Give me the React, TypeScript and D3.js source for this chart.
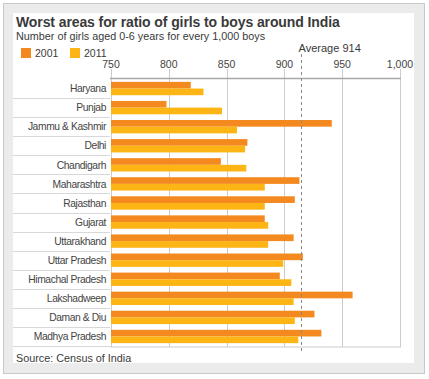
import React from "react";
import * as d3 from "d3";

const regions = [
  "Haryana",
  "Punjab",
  "Jammu & Kashmir",
  "Delhi",
  "Chandigarh",
  "Maharashtra",
  "Rajasthan",
  "Gujarat",
  "Uttarakhand",
  "Uttar Pradesh",
  "Himachal Pradesh",
  "Lakshadweep",
  "Daman & Diu",
  "Madhya Pradesh",
];
const values2001 = [819, 798, 941, 868, 845, 913, 909, 883, 908, 916, 896, 959, 926, 932];
const values2011 = [830, 846, 859, 866, 867, 883, 883, 886, 886, 899, 906, 908, 909, 912];
const seriesNames = ["2001", "2011"];
const seriesColors = ["#f48a1f", "#fdb515"];
const tickValues = [750, 800, 850, 900, 950, 1000];
const averageValue = 914;
const title = "Worst areas for ratio of girls to boys around India";
const subtitle = "Number of girls aged 0-6 years for every 1,000 boys";
const source = "Source: Census of India";

const W = 429;
const H = 379;
const FONT = "'Liberation Sans', Arial, Helvetica, sans-serif";

export default function App() {
  const x = d3.scaleLinear().domain([750, 1000]).range([111, 400]);
  const y = d3
    .scaleBand<string>()
    .domain(regions)
    .range([79, 346])
    .paddingInner(0.3)
    .paddingOuter(0.15);
  const sub = d3.scaleBand<string>().domain(seriesNames).range([0, y.bandwidth()]);
  const step = y.step();
  const fmt = d3.format(",");
  const series = [values2001, values2011];

  return (
    <svg
      width={W}
      height={H}
      style={{ position: "absolute", left: 0, top: 0, fontFamily: FONT }}
    >
      <rect x={0} y={0} width={W} height={H} fill="#ffffff" />
      <rect x={3.5} y={3.5} width={421} height={370} fill="#ebebeb" stroke="#c8c8c8" />
      <rect x={13} y={13} width={401} height={350} fill="#ffffff" />

      <text x={16} y={27} fontSize={14} fontWeight="bold" fill="#3a3a3a" letterSpacing={-0.1}>
        {title}
      </text>
      <text x={16} y={40} fontSize={10.8} fill="#3a3a3a">
        {subtitle}
      </text>

      {seriesNames.map((s, i) => (
        <g key={s} transform={`translate(${[21, 70][i]},48)`}>
          <rect x={0} y={0} width={10} height={10} fill={seriesColors[i]} />
          <text x={14} y={9} fontSize={10.5} fill="#3a3a3a">
            {s}
          </text>
        </g>
      ))}

      {/* label area row separators */}
      {regions.map((r, i) => (
        <line
          key={"sep" + r}
          x1={13}
          x2={110}
          y1={Math.round(79 + (i + 1) * step) + 0.5}
          y2={Math.round(79 + (i + 1) * step) + 0.5}
          stroke="#d8d8d8"
        />
      ))}

      {/* gridlines */}
      {tickValues.map((t) => (
        <line
          key={"g" + t}
          x1={Math.round(x(t)) + 0.5}
          x2={Math.round(x(t)) + 0.5}
          y1={69}
          y2={347}
          stroke="#cccccc"
        />
      ))}
      {tickValues.map((t) => (
        <text
          key={"t" + t}
          x={x(t)}
          y={68}
          textAnchor="middle"
          fontSize={10.5}
          fill="#444"
        >
          {fmt(t)}
        </text>
      ))}
      <line x1={110} x2={401} y1={78.5} y2={78.5} stroke="#a8a8a8" strokeWidth={1.5} />
      <line x1={110} x2={401} y1={347} y2={347} stroke="#cccccc" />

      {/* bars */}
      {regions.map((r, i) => (
        <g key={r}>
          {series.map((vals, si) => (
            <rect
              key={si}
              x={x(750)}
              y={(y(r) as number) + (sub(seriesNames[si]) as number)}
              width={x(vals[i]) - x(750)}
              height={sub.bandwidth()}
              fill={seriesColors[si]}
            />
          ))}
          <text
            x={106}
            y={(y(r) as number) + y.bandwidth() / 2 + 3.7}
            textAnchor="end"
            fontSize={10.3}
            letterSpacing={-0.4}
            fill="#444"
          >
            {r}
          </text>
        </g>
      ))}

      {/* average line */}
      <line
        x1={Math.round(x(averageValue)) + 0.5}
        x2={Math.round(x(averageValue)) + 0.5}
        y1={54}
        y2={351}
        stroke="#888"
        strokeDasharray="3,3"
      />
      <text x={x(averageValue) - 2} y={52} fontSize={11} fill="#3a3a3a">
        {"Average " + averageValue}
      </text>

      <text x={16} y={362} fontSize={10.8} fill="#3a3a3a">
        {source}
      </text>
    </svg>
  );
}
